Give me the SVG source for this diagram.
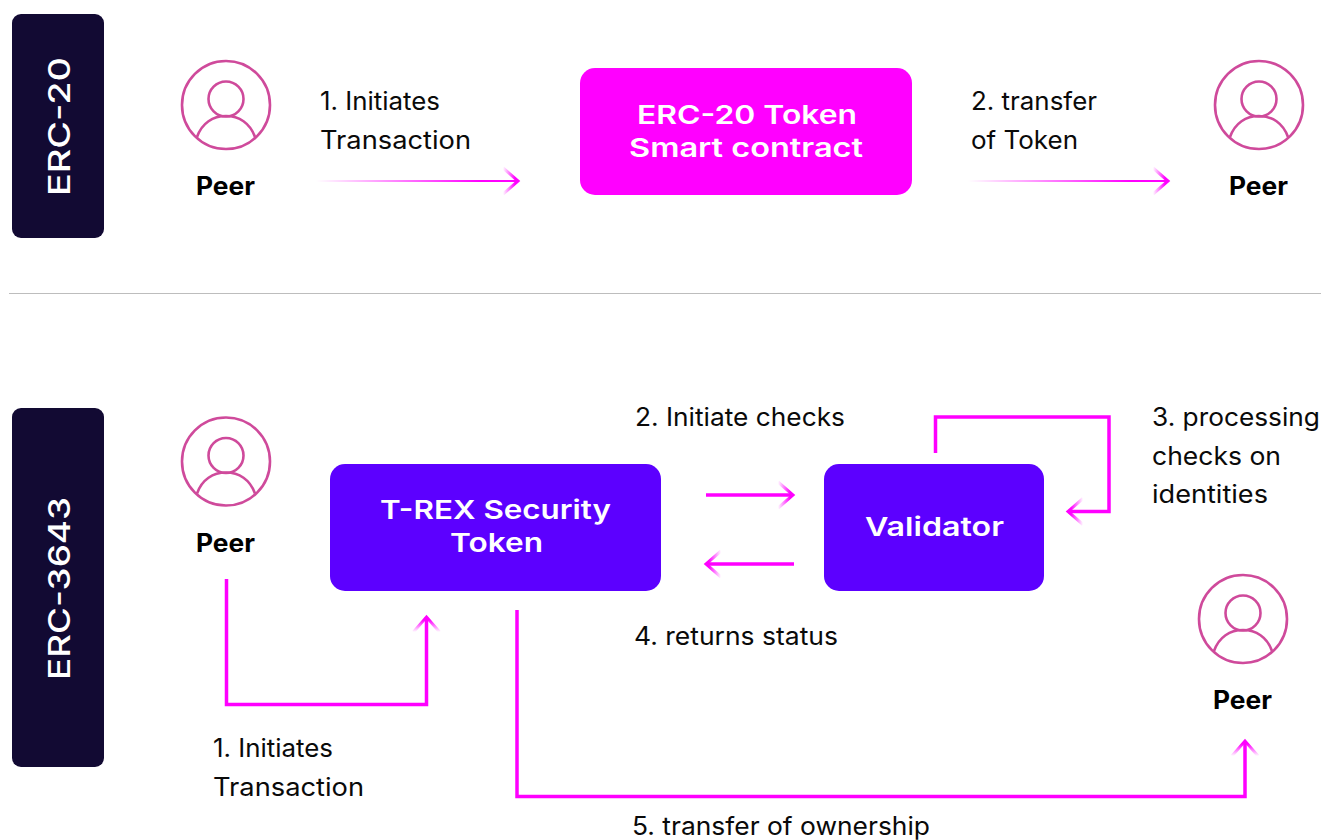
<svg xmlns="http://www.w3.org/2000/svg" width="1321" height="840" viewBox="0 0 1321 840">
<style>
.t{font-family:"Inter","Open Sans","Liberation Sans",sans-serif;font-size:25px;fill:#0a0a0a}
.p{font-family:"Inter","Open Sans","Liberation Sans",sans-serif;font-size:25px;font-weight:700;fill:#000}
.b{font-family:"Inter","Open Sans","Liberation Sans",sans-serif;font-size:26px;font-weight:600;fill:#fff}
.s{font-family:"Inter","Open Sans","Liberation Sans",sans-serif;font-size:30px;font-weight:500;fill:#fff}
.bar{fill:#120a33}
.c{fill:none;stroke:#ff00ff;stroke-width:3.5}
.h{fill:none;stroke:url(#hg);stroke-width:3}
.o{fill:none;stroke:#cf4a9b;stroke-width:2.6}
</style>
<defs>
<linearGradient id="hg" gradientUnits="userSpaceOnUse" x1="-17" y1="0" x2="-5" y2="0"><stop offset="0" stop-color="#ff00ff" stop-opacity="0"/><stop offset="1" stop-color="#ff00ff"/></linearGradient>
<linearGradient id="l1" gradientUnits="userSpaceOnUse" x1="316" y1="0" x2="480" y2="0"><stop offset="0" stop-color="#ff00ff" stop-opacity="0"/><stop offset="1" stop-color="#ff00ff"/></linearGradient>
<linearGradient id="l2" gradientUnits="userSpaceOnUse" x1="968" y1="0" x2="1130" y2="0"><stop offset="0" stop-color="#ff00ff" stop-opacity="0"/><stop offset="1" stop-color="#ff00ff"/></linearGradient>
<path id="head" class="h" d="M-17-13L-2 0L-17 13"/>
<g id="person"><circle class="o" r="44"/><circle class="o" cy="-6" r="17.500"/><path class="o" d="M-29 32C-24 18-13 11 0 11C13 11 24 18 29 32"/></g>
</defs>
<g id="bar-erc20"><rect class="bar" x="12" y="14" width="92" height="224" rx="9"/><text class="s" transform="translate(69.500 196) rotate(-90)" textLength="139" lengthAdjust="spacingAndGlyphs">ERC-20</text></g>
<g id="bar-erc3643"><rect class="bar" x="12" y="408" width="92" height="359" rx="9"/><text class="s" transform="translate(69.500 680) rotate(-90)" textLength="183" lengthAdjust="spacingAndGlyphs">ERC-3643</text></g>
<line id="divider" x1="9" y1="293.500" x2="1321" y2="293.500" stroke="#bdbdbd" stroke-width="1"/>
<g id="peer-a"><use href="#person" x="226" y="105"/><text class="p" x="196" y="195" textLength="59" lengthAdjust="spacingAndGlyphs">Peer</text></g>
<g id="peer-b"><use href="#person" x="1259" y="105"/><text class="p" x="1229" y="195" textLength="59" lengthAdjust="spacingAndGlyphs">Peer</text></g>
<g id="peer-c"><use href="#person" x="226" y="461.500"/><text class="p" x="196" y="552" textLength="59" lengthAdjust="spacingAndGlyphs">Peer</text></g>
<g id="peer-d"><use href="#person" x="1243" y="619"/><text class="p" x="1213" y="709" textLength="59" lengthAdjust="spacingAndGlyphs">Peer</text></g>
<g id="erc20-token"><rect x="580" y="68" width="332" height="127" rx="15" fill="#ff00ff"/><text class="b" x="637" y="124" textLength="220" lengthAdjust="spacingAndGlyphs">ERC-20 Token</text><text class="b" x="629" y="157" textLength="234" lengthAdjust="spacingAndGlyphs">Smart contract</text></g>
<g id="trex-token"><rect x="330" y="464" width="331" height="127" rx="15" fill="#5c00ff"/><text class="b" x="380" y="519" textLength="231" lengthAdjust="spacingAndGlyphs">T-REX Security</text><text class="b" x="450" y="552" textLength="93" lengthAdjust="spacingAndGlyphs">Token</text></g>
<g id="validator"><rect x="824" y="464" width="220" height="127" rx="15" fill="#5c00ff"/><text class="b" x="865" y="536" textLength="139" lengthAdjust="spacingAndGlyphs">Validator</text></g>
<g id="connectors">
<rect x="316" y="180" width="203" height="2" fill="url(#l1)"/><use href="#head" transform="translate(520 181)"/>
<rect x="968" y="180" width="201" height="2" fill="url(#l2)"/><use href="#head" transform="translate(1170 181)"/>
<path class="c" d="M706 495H793"/><use href="#head" transform="translate(795 495)"/>
<path class="c" d="M794 564H707"/><use href="#head" transform="translate(704 564) rotate(180)"/>
<path class="c" d="M935.500 453V417H1109V511.500H1068"/><use href="#head" transform="translate(1066 511.500) rotate(180)"/>
<path class="c" d="M226.500 579V704.500H426.500V617"/><use href="#head" transform="translate(426.500 615) rotate(-90)"/>
<path class="c" d="M517 610V796.500H1245V741"/><use href="#head" transform="translate(1245 739) rotate(-90)"/>
</g>
<g id="labels">
<text class="t" x="320" y="110" textLength="120" lengthAdjust="spacingAndGlyphs">1. Initiates</text><text class="t" x="320" y="149" textLength="151" lengthAdjust="spacingAndGlyphs">Transaction</text>
<text class="t" x="971" y="110" textLength="126" lengthAdjust="spacingAndGlyphs">2. transfer</text><text class="t" x="971" y="149" textLength="107" lengthAdjust="spacingAndGlyphs">of Token</text>
<text class="t" x="635" y="426" textLength="210" lengthAdjust="spacingAndGlyphs">2. Initiate checks</text>
<text class="t" x="1152" y="426" textLength="168" lengthAdjust="spacingAndGlyphs">3. processing</text><text class="t" x="1152" y="465" textLength="129" lengthAdjust="spacingAndGlyphs">checks on</text><text class="t" x="1152" y="503" textLength="116" lengthAdjust="spacingAndGlyphs">identities</text>
<text class="t" x="634" y="645" textLength="204" lengthAdjust="spacingAndGlyphs">4. returns status</text>
<text class="t" x="213" y="757" textLength="120" lengthAdjust="spacingAndGlyphs">1. Initiates</text><text class="t" x="213" y="796" textLength="151" lengthAdjust="spacingAndGlyphs">Transaction</text>
<text class="t" x="632" y="835" textLength="298" lengthAdjust="spacingAndGlyphs">5. transfer of ownership</text>
</g>
</svg>
